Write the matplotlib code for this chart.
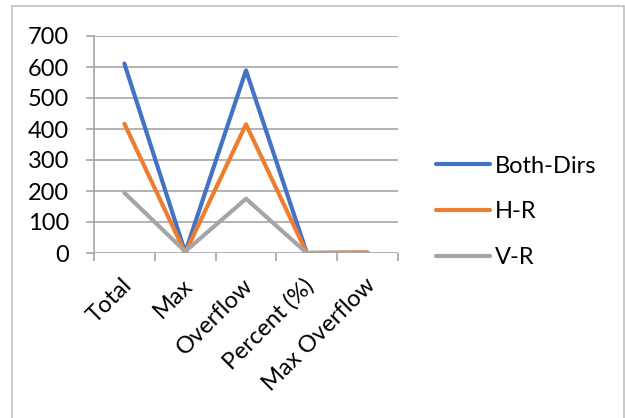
import matplotlib
matplotlib.use("Agg")
import matplotlib.pyplot as plt
from matplotlib.patches import Rectangle
from matplotlib.transforms import ScaledTranslation
import numpy as np

categories = ["Total", "Max", "Overflow", "Percent (%)", "Max Overflow"]
both_dirs = [611, 2, 589, 0, 1]
h_r = [417, 0, 415, 0, 2]
v_r = [194, 5, 175, 0, 0]

plt.rcParams["font.family"] = ["Lato", "DejaVu Sans"]
FS = 17
GRID = "#A6A6A6"

W, H = 625, 418
fig = plt.figure(figsize=(W / 100, H / 100), dpi=100)
ax = fig.add_axes([94 / W, 1 - 253 / H, (398 - 94) / W, (253 - 36) / H])

x = np.arange(len(categories))
ax.plot(x, both_dirs, color="#4472C4", lw=3, label="Both-Dirs", solid_capstyle="round")
ax.plot(x, h_r, color="#ED7D31", lw=3, label="H-R", solid_capstyle="round")
ax.plot(x, v_r, color="#A5A5A5", lw=3, label="V-R", solid_capstyle="round")

ax.set_xlim(-0.5, len(categories) - 0.5)
ax.set_ylim(0, 700)
ax.set_yticks(np.arange(0, 701, 100))
ax.yaxis.grid(True, color=GRID, lw=1.2)
ax.set_axisbelow(True)

ax.set_xticks(x)
ax.set_xticklabels(categories, rotation=45, ha="right", va="center",
                   rotation_mode="anchor", fontsize=FS)
ax.set_xticks(np.arange(-0.5, len(categories)), minor=True)
ax.tick_params(axis="x", which="major", length=0, pad=21)
ax.tick_params(axis="x", which="minor", length=6, color=GRID, width=1.2)
ax.tick_params(axis="y", length=6, color=GRID, width=1.2, pad=12, labelsize=FS)

# nudge rotated category labels a little to the right, like the original
shift = ScaledTranslation(4 / 100, 0, fig.dpi_scale_trans)
for lbl in ax.get_xticklabels():
    lbl.set_transform(lbl.get_transform() + shift)

for s in ["top", "right", "bottom"]:
    ax.spines[s].set_visible(False)
ax.spines["left"].set_color(GRID)
ax.spines["left"].set_linewidth(1.2)
ax.spines["left"].set_bounds(0, 700)

leg = ax.legend(loc="center left", bbox_to_anchor=(436 / W, 1 - 212 / H),
                bbox_transform=fig.transFigure, frameon=False, fontsize=FS,
                handlelength=2.3, handletextpad=0.2, labelspacing=1.05,
                borderpad=0, borderaxespad=0)

fig.add_artist(Rectangle((12 / W, -0.01), (624 - 12) / W, 1.01 - 6 / H,
                         transform=fig.transFigure, fill=False,
                         edgecolor="#C0C0C0", lw=1.2))

fig.savefig("out.png", dpi=100)
